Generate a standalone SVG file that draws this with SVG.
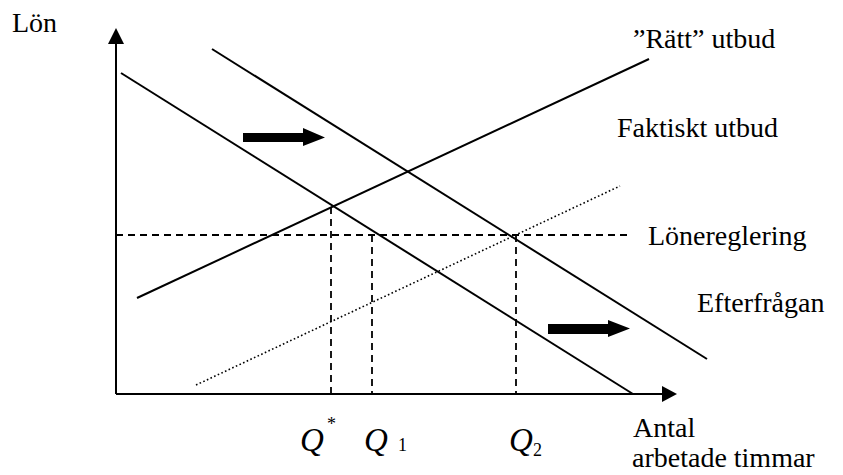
<svg xmlns="http://www.w3.org/2000/svg" width="843" height="475" viewBox="0 0 843 475">
<style>
.ax{stroke:#000;stroke-width:2;fill:none}
.ln{stroke:#000;stroke-width:2;fill:none}
.da{stroke:#000;stroke-width:1.8;stroke-dasharray:7,5;fill:none}
.dt{stroke:#000;stroke-width:1.6;stroke-dasharray:1.6,2.4;fill:none}
.t{font-family:"Liberation Serif","Times New Roman",serif;font-size:28px;fill:#000}
.q{font-family:"Liberation Serif","Times New Roman",serif;font-style:italic;font-size:33px;fill:#000}
.s{font-family:"Liberation Serif","Times New Roman",serif;font-size:18px;fill:#000}
</style>
<g id="axes">
<line class="ax" x1="116" y1="394" x2="116" y2="44"/>
<path d="M108,44 L116,28 L124,44 Z" fill="#000"/>
<line class="ax" x1="116" y1="394" x2="662" y2="394"/>
<path d="M662,386 L677,394 L662,402 Z" fill="#000"/>
</g>
<g id="connectors">
<line id="demand1" class="ln" x1="121" y1="73" x2="633" y2="394"/>
<line id="demand2" class="ln" x1="212" y1="49" x2="707" y2="359"/>
<line id="supply-right" class="ln" x1="137" y1="298" x2="649" y2="59"/>
<line id="supply-actual" class="dt" x1="196" y1="385" x2="620" y2="186"/>
<line id="wage-reg" class="da" x1="116" y1="235" x2="627" y2="235"/>
<line class="da" x1="331" y1="207" x2="331" y2="394"/>
<line class="da" x1="372" y1="235" x2="372" y2="394"/>
<line class="da" x1="516" y1="235" x2="516" y2="394"/>
</g>
<g id="shift-arrow-1">
<path d="M243,133 L303,133 L303,128 L325,137.5 L303,146 L303,142 L243,142 Z" fill="#000"/>
</g>
<g id="shift-arrow-2">
<path d="M548,324 L608,324 L608,320 L630,328.5 L608,337 L608,334 L548,334 Z" fill="#000"/>
</g>
<g id="labels">
<text class="t" x="12" y="32">Lön</text>
<text class="t" x="633" y="48">”Rätt” utbud</text>
<text class="t" x="617" y="137">Faktiskt utbud</text>
<text class="t" x="648" y="245">Lönereglering</text>
<text class="t" x="697" y="312">Efterfrågan</text>
<text class="t" x="633" y="437">Antal</text>
<text class="t" x="632" y="467">arbetade timmar</text>
<text class="q" x="300" y="451">Q</text>
<text class="s" x="327" y="430">*</text>
<text class="q" x="364" y="451">Q</text>
<text class="s" x="398" y="451">1</text>
<text class="q" x="509" y="451">Q</text>
<text class="s" x="533" y="456">2</text>
</g>
</svg>
